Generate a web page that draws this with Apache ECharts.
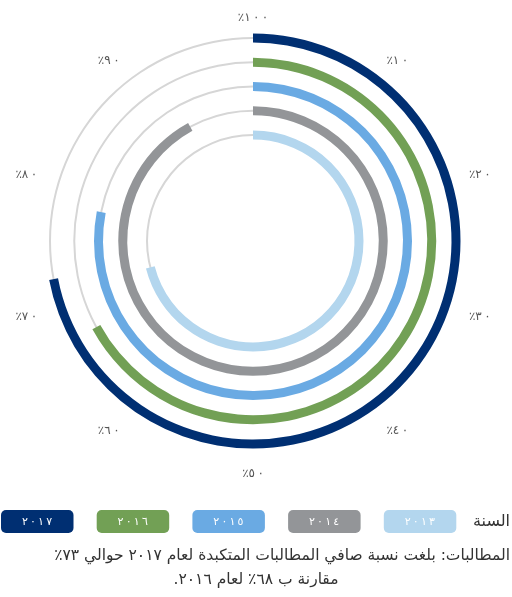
<!DOCTYPE html>
<html>
<head>
<meta charset="utf-8">
<script src="https://cdn.jsdelivr.net/npm/echarts@6/dist/echarts.min.js"></script>
<style>
  html, body { margin: 0; padding: 0; background: #fff; }
  #main { width: 512px; height: 597px; direction: rtl; }
</style>
</head>
<body>
<div id="main"></div>
<script>
// rings from inside to outside
var years = ['2013', '2014', '2015', '2016', '2017'];
var ratios = [71, 92, 78, 67, 72];
var tracks = [100, 100, 100, 100, 100];
var ringColors = ['#b3d6ee', '#939598', '#6aaae3', '#72a055', '#002f72'];
var yearTitle = 'السنة';
var captionLines = [
    'المطالبات: بلغت نسبة صافي المطالبات المتكبدة لعام ٢٠١٧ حوالي ٧٣٪',
    'مقارنة ب ٦٨٪ لعام ٢٠١٦.'
];

function arDigits(s) {
    return String(s).replace(/[0-9]/g, function (d) { return '٠١٢٣٤٥٦٧٨٩'[+d]; });
}
// spaced digits, forced left-to-right
function spaced(s, prefix) {
    return '\u202D' + (prefix || '') + arDigits(s).split('').join('\u2009') + '\u202C';
}

var chart = echarts.init(document.getElementById('main'));

// legend boxes, newest on the left
var graphics = [];
for (var i = 0; i < years.length; i++) {
    var k = years.length - 1 - i;
    var x0 = 1 + i * 95.7;
    graphics.push({
        type: 'rect',
        shape: { x: x0, y: 510, width: 72.5, height: 23, r: 5 },
        style: { fill: ringColors[k] }
    });
    graphics.push({
        type: 'text',
        style: {
            text: spaced(years[k]), x: x0 + 36, y: 522,
            align: 'center', verticalAlign: 'middle',
            fill: '#fff', font: '11px "DejaVu Sans"'
        }
    });
}
graphics.push({
    type: 'text',
    style: {
        text: yearTitle, x: 510, y: 522, align: 'right', verticalAlign: 'middle',
        fill: '#333', font: '16px "DejaVu Sans"'
    }
});
graphics.push({
    type: 'text',
    style: {
        text: captionLines[0], x: 510, y: 556, align: 'right', verticalAlign: 'middle',
        fill: '#333', font: '15.5px "DejaVu Sans"'
    }
});
graphics.push({
    type: 'text',
    style: {
        text: captionLines[1], x: 256, y: 580, align: 'center', verticalAlign: 'middle',
        fill: '#333', font: '15.5px "DejaVu Sans"'
    }
});

var hidden = {
    axisLine: { show: false },
    axisTick: { show: false },
    axisLabel: { show: false },
    splitLine: { show: false }
};

var option = {
    animation: false,
    polar: [
        { center: [253, 241], radius: [106, 203] },
        // second polar only for the thin gray tracks
        { center: [253, 241], radius: [106, 203] }
    ],
    angleAxis: [{
        polarIndex: 0,
        type: 'value',
        min: 0,
        max: 100,
        interval: 10,
        startAngle: 90,
        clockwise: true,
        axisLine: { show: false },
        axisTick: { show: false },
        splitLine: { show: false },
        axisLabel: {
            margin: 24,
            padding: [0, 0, -10, 0],
            color: '#555',
            fontFamily: 'DejaVu Sans',
            fontSize: 12,
            formatter: function (v) {
                // 0 and 100 share the top position
                return spaced(v === 0 ? 100 : v, '٪');
            }
        }
    }, Object.assign({
        polarIndex: 1, type: 'value', min: 0, max: 100, startAngle: 90, clockwise: true
    }, hidden)],
    radiusAxis: [
        Object.assign({ polarIndex: 0, type: 'category', data: years, boundaryGap: false }, hidden),
        Object.assign({ polarIndex: 1, type: 'category', data: years, boundaryGap: false }, hidden)
    ],
    series: [{
        type: 'bar',
        coordinateSystem: 'polar',
        polarIndex: 1,
        barWidth: 2,
        clip: false,
        z: 1,
        itemStyle: { color: '#d6d6d6' },
        data: tracks
    }, {
        type: 'bar',
        coordinateSystem: 'polar',
        polarIndex: 0,
        barWidth: 9,
        clip: false,
        z: 5,
        data: ratios.map(function (v, i) {
            return { value: v, itemStyle: { color: ringColors[i] } };
        })
    }],
    graphic: graphics
};
chart.setOption(option);
</script>
</body>
</html>
